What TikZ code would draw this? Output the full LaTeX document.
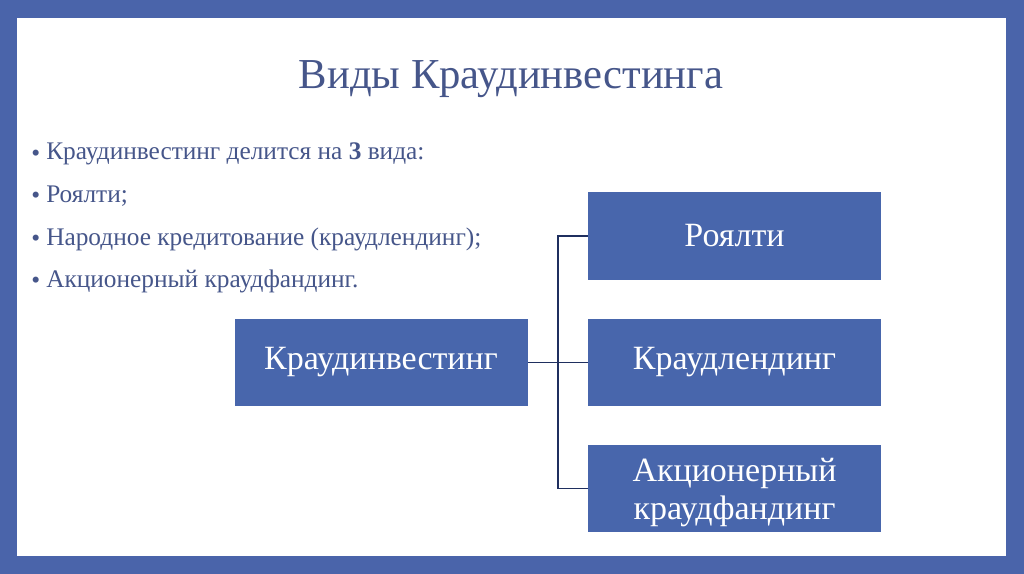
\documentclass[tikz,border=0pt]{standalone}
\usepackage{fontspec}
\setmainfont{Liberation Serif}
\definecolor{framebl}{HTML}{4A64AA}
\definecolor{boxbl}{HTML}{4866AC}
\definecolor{txtbl}{HTML}{46568A}
\definecolor{linebl}{HTML}{1F2F5F}
\newcommand{\bul}{\makebox[11.25pt][l]{\raisebox{-1pt}{•}}}
\begin{document}
\begin{tikzpicture}[x=0.75pt,y=-0.75pt,
	box/.style={fill=boxbl,text=white,minimum width=219.75pt,minimum height=65.25pt,inner sep=0pt,align=center,font=\fontsize{25.5}{28.5}\selectfont},
	item/.style={anchor=base west,inner sep=0pt,text=txtbl,font=\fontsize{19}{22}\selectfont},
	conn/.style={draw=linebl,line width=1.1pt}]
	\fill[framebl] (0,0) rectangle (1024,574);
	\fill[white] (17,18) rectangle (1006,556);
	\node[anchor=base,text=txtbl,font=\fontsize{32}{36}\selectfont] (title) at (511,89) {Виды Краудинвестинга};
	\node[item] (l1) at (31,160) {\bul Краудинвестинг делится на \textbf{3} вида:};
	\node[item] (l2) at (31,202) {\bul Роялти;};
	\node[item] (l3) at (31,245) {\bul Народное кредитование (краудлендинг);};
	\node[item] (l4) at (31,287) {\bul Акционерный краудфандинг.};
	\node[box] (main) at (381,362.5) {Краудинвестинг};
	\node[box] (roy) at (734.5,236) {Роялти};
	\node[box] (lend) at (734.5,362.5) {Краудлендинг};
	\node[box] (fund) at (734.5,488.5) {\rule{0pt}{24pt}Акционерный\\краудфандинг};
	\coordinate (fork) at (558,362.5);
	\draw[conn] (main.east) -- (lend.west);
	\draw[conn] (roy.west) -- (roy.west -| fork) -- (fund.west -| fork) -- (fund.west);
\end{tikzpicture}
\end{document}
